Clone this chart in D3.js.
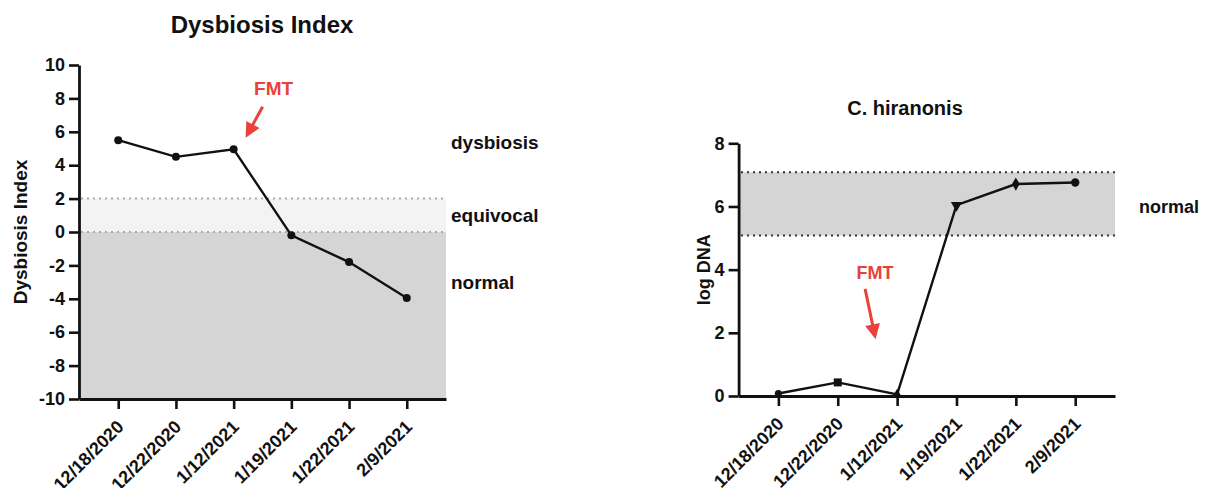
<!DOCTYPE html>
<html>
<head>
<meta charset="utf-8">
<script src="https://cdn.jsdelivr.net/npm/d3@7"></script>
<style>
  body { margin: 0; background: #fff; }
  svg { display: block; font-family: "Liberation Sans", Arial, sans-serif; font-weight: bold; }
</style>
</head>
<body>
<script>
"use strict";
// sampling dates (shared by both panels)
const dates = ["12/18/2020", "12/22/2020", "1/12/2021", "1/19/2021", "1/22/2021", "2/9/2021"];

// left panel: dysbiosis index
const dysbiosisIndex = [5.5, 4.5, 4.95, -0.2, -1.8, -3.95];
const dysbiosisTicks = [-10, -8, -6, -4, -2, 0, 2, 4, 6, 8, 10];
const dysbiosisNormal = [-10, 0];
const dysbiosisEquivocal = [0, 2];
const dysbiosisZoneNames = ["dysbiosis", "equivocal", "normal"];
const dysbiosisZoneAt = [5.35, 1.0, -3.0];

// right panel: C. hiranonis
const hiranonisDna = [0.08, 0.43, 0.05, 6.04, 6.71, 6.76];
const hiranonisTicks = [0, 2, 4, 6, 8];
const hiranonisNormal = [5.08, 7.08];

const red = "#e8423a";

const svg = d3.select("body").append("svg")
    .attr("width", 1217)
    .attr("height", 488);

// draws a red FMT arrow from start to tip (pixel points from the scales)
function fmtArrow(g, x1, y1, x2, y2) {
    const dx = x2 - x1, dy = y2 - y1;
    const len = Math.sqrt(dx * dx + dy * dy);
    const ux = dx / len, uy = dy / len;
    const head = 15, half = 7.5;
    const bx = x2 - ux * head, by = y2 - uy * head;
    g.append("line")
        .attr("x1", x1).attr("y1", y1)
        .attr("x2", bx + ux * 2).attr("y2", by + uy * 2)
        .attr("stroke", red).attr("stroke-width", 3);
    g.append("path")
        .attr("d", `M${x2},${y2}L${bx - uy * half},${by + ux * half}L${bx + uy * half},${by - ux * half}Z`)
        .attr("fill", red);
}

function styleAxis(g, size) {
    g.select(".domain").attr("stroke", "#111").attr("stroke-width", 2.8);
    g.selectAll(".tick line").attr("stroke", "#111").attr("stroke-width", 2.6);
    g.selectAll(".tick text")
        .attr("fill", "#111")
        .attr("font-size", size)
        .attr("font-weight", "bold")
        .attr("font-family", "Liberation Sans, Arial, sans-serif");
}

function dateAxis(g, x, y0, dx, dy) {
    g.attr("transform", `translate(0,${y0})`)
        .call(d3.axisBottom(x).tickSize(10).tickSizeOuter(0));
    styleAxis(g, 18);
    g.selectAll(".tick text")
        .attr("x", 0).attr("y", 0).attr("dy", 0)
        .attr("text-anchor", "end")
        .attr("transform", `translate(${dx},${dy}) rotate(-45)`);
}

// plain hyphen for negatives, like the original
const plain = d => String(d);

// ---------- left panel ----------
(function () {
    const x = d3.scalePoint().domain(dates).range([79, 446]).padding(0.68);
    const y = d3.scaleLinear().domain([-10, 10]).range([399, 65]);
    const g = svg.append("g");

    g.append("rect")
        .attr("x", 79).attr("width", 446 - 79)
        .attr("y", y(dysbiosisEquivocal[1]))
        .attr("height", y(dysbiosisEquivocal[0]) - y(dysbiosisEquivocal[1]))
        .attr("fill", "#f3f3f3");
    g.append("rect")
        .attr("x", 79).attr("width", 446 - 79)
        .attr("y", y(dysbiosisNormal[1]))
        .attr("height", y(dysbiosisNormal[0]) - y(dysbiosisNormal[1]))
        .attr("fill", "#d5d5d5");

    g.selectAll(".cut")
        .data(dysbiosisEquivocal)
        .enter().append("line")
        .attr("x1", 81).attr("x2", 446)
        .attr("y1", d => y(d)).attr("y2", d => y(d))
        .attr("stroke", "#a8a8a8").attr("stroke-width", 2)
        .attr("stroke-dasharray", "2,4");

    g.append("path")
        .datum(dysbiosisIndex)
        .attr("fill", "none").attr("stroke", "#111").attr("stroke-width", 2.4)
        .attr("d", d3.line().x((d, i) => x(dates[i])).y(d => y(d)));

    g.selectAll(".pt")
        .data(dysbiosisIndex)
        .enter().append("circle")
        .attr("cx", (d, i) => x(dates[i]))
        .attr("cy", d => y(d))
        .attr("r", 4)
        .attr("fill", "#111");

    const ya = g.append("g").attr("transform", "translate(79,0)")
        .call(d3.axisLeft(y).tickValues(dysbiosisTicks).tickFormat(plain)
            .tickSize(10).tickSizeOuter(0).tickPadding(4));
    styleAxis(ya, 18);

    dateAxis(g.append("g"), x, 399, 6, 29);

    g.append("text")
        .attr("x", 262).attr("y", 33)
        .attr("text-anchor", "middle").attr("font-size", 24)
        .attr("fill", "#111")
        .text("Dysbiosis Index");

    g.append("text")
        .attr("transform", `translate(27,${y(0)}) rotate(-90)`)
        .attr("text-anchor", "middle").attr("font-size", 19)
        .attr("fill", "#111")
        .text("Dysbiosis Index");

    g.selectAll(".zone")
        .data(dysbiosisZoneNames)
        .enter().append("text")
        .attr("x", 451)
        .attr("y", (d, i) => y(dysbiosisZoneAt[i]))
        .attr("dy", "0.35em")
        .attr("font-size", 19)
        .attr("fill", "#111")
        .text(d => d);

    const fx = x("1/12/2021");
    g.append("text")
        .attr("x", fx + 40).attr("y", y(8.2))
        .attr("text-anchor", "middle").attr("font-size", 19)
        .attr("fill", red)
        .text("FMT");
    fmtArrow(g, fx + 29, y(7.5), fx + 12, y(5.65));
})();

// ---------- right panel ----------
(function () {
    const x = d3.scalePoint().domain(dates).range([738.6, 1115]).padding(0.67);
    const y = d3.scaleLinear().domain([0, 8]).range([396, 143.3]);
    const g = svg.append("g");

    g.append("rect")
        .attr("x", 738.6).attr("width", 1115 - 738.6)
        .attr("y", y(hiranonisNormal[1]))
        .attr("height", y(hiranonisNormal[0]) - y(hiranonisNormal[1]))
        .attr("fill", "#d5d5d5");

    g.selectAll(".cut")
        .data(hiranonisNormal)
        .enter().append("line")
        .attr("x1", 741).attr("x2", 1115)
        .attr("y1", d => y(d)).attr("y2", d => y(d))
        .attr("stroke", "#333").attr("stroke-width", 2)
        .attr("stroke-dasharray", "2,4");

    g.append("path")
        .datum(hiranonisDna)
        .attr("fill", "none").attr("stroke", "#111").attr("stroke-width", 2.4)
        .attr("d", d3.line().x((d, i) => x(dates[i])).y(d => y(d)));

    // GraphPad-style symbol sequence
    const symbols = [d3.symbolCircle, d3.symbolSquare, d3.symbolTriangle,
                     d3.symbolTriangle, d3.symbolDiamond, d3.symbolCircle];
    const sizes = [40, 64, 40, 55, 50, 55];
    g.selectAll(".pt")
        .data(hiranonisDna)
        .enter().append("path")
        .attr("d", (d, i) => d3.symbol().type(symbols[i]).size(sizes[i])())
        .attr("transform", (d, i) => `translate(${x(dates[i])},${y(d)})` + (i === 3 ? " rotate(180)" : ""))
        .attr("fill", "#111");

    const ya = g.append("g").attr("transform", "translate(738.6,0)")
        .call(d3.axisLeft(y).tickValues(hiranonisTicks).tickFormat(plain)
            .tickSize(10).tickSizeOuter(0).tickPadding(4));
    styleAxis(ya, 18);

    dateAxis(g.append("g"), x, 396, 6, 29);

    g.append("text")
        .attr("x", 905).attr("y", 115)
        .attr("text-anchor", "middle").attr("font-size", 20)
        .attr("fill", "#111")
        .text("C. hiranonis");

    g.append("text")
        .attr("transform", `translate(710,${y(4)}) rotate(-90)`)
        .attr("text-anchor", "middle").attr("font-size", 18)
        .attr("fill", "#111")
        .text("log DNA");

    g.append("text")
        .attr("x", 1139).attr("y", y(6))
        .attr("dy", "0.35em")
        .attr("font-size", 18)
        .attr("fill", "#111")
        .text("normal");

    const fx = x("1/12/2021");
    g.append("text")
        .attr("x", fx - 22).attr("y", y(3.7))
        .attr("text-anchor", "middle").attr("font-size", 18)
        .attr("fill", red)
        .text("FMT");
    fmtArrow(g, fx - 32, y(3.39), fx - 21.5, y(1.8));
})();
</script>
</body>
</html>
